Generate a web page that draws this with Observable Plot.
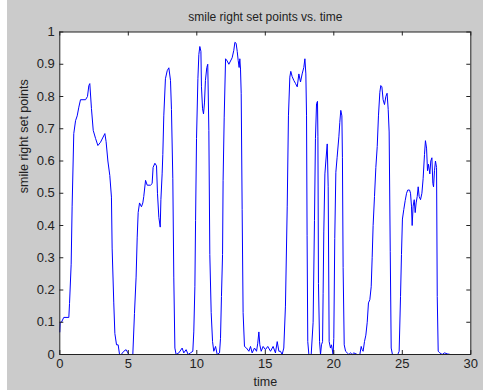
<!DOCTYPE html>
<html><head><meta charset="utf-8">
<script src="https://cdn.jsdelivr.net/npm/d3@7"></script>
<script src="https://cdn.jsdelivr.net/npm/@observablehq/plot@0.6"></script>
<style>
body{margin:0;background:#fff;}
#chart{position:absolute;left:7px;top:0;}
</style></head><body><div id="chart"></div>
<script>
const time = [0,0.03,0.12,0.29,0.66,0.71,0.83,0.90,1.02,1.15,1.27,1.39,1.51,1.88,2.02,2.12,2.19,2.31,2.44,2.61,2.78,2.97,3.29,3.38,3.51,3.65,3.77,3.82,3.94,4.02,4.14,4.26,4.36,4.48,4.67,4.84,5.04,5.33,5.45,5.57,5.65,5.72,5.82,5.96,6.06,6.13,6.26,6.38,6.62,6.74,6.81,6.94,7.06,7.13,7.23,7.33,7.38,7.47,7.52,7.59,7.71,7.84,7.96,8.08,8.15,8.25,8.32,8.40,8.49,8.69,8.93,9.05,9.22,9.37,9.54,9.71,9.78,
9.86,9.91,9.98,10.08,10.15,10.22,10.30,10.34,10.42,10.49,10.56,10.63,10.73,10.80,10.88,10.95,11.05,11.15,11.24,11.37,11.49,11.66,11.73,11.80,11.88,11.92,12.00,12.10,12.22,12.34,12.46,12.58,12.70,12.78,12.87,12.95,13.02,13.09,13.14,13.19,13.24,13.31,13.38,13.48,13.63,13.80,13.92,14.04,14.21,14.36,14.45,14.53,14.60,14.70,14.84,15.01,15.18,15.38,15.57,15.74,15.87,15.99,16.11,16.23,16.35,16.47,16.60,16.69,16.79,16.86,16.96,17.08,17.21,17.33,17.45,17.57,17.69,17.81,17.89,17.96,18.01,18.05,18.10,18.18,18.35,18.49,18.59,18.66,18.74,18.81,
18.84,18.88,18.96,19.03,19.10,19.18,19.22,19.27,19.35,19.42,19.52,19.59,19.66,19.76,19.83,19.95,20.00,20.07,20.15,20.24,20.37,20.44,20.51,20.59,20.63,20.68,20.76,20.86,20.98,21.10,21.22,21.34,21.46,21.71,21.90,22.00,22.07,22.14,22.24,22.34,22.44,22.53,22.63,22.73,22.80,22.87,22.97,23.07,23.17,23.26,23.36,23.43,23.51,23.60,23.70,23.80,23.89,23.97,24.04,24.12,24.19,24.28,24.50,24.67,24.77,24.87,24.94,25.01,25.11,25.21,25.31,25.40,25.53,25.60,25.67,25.72,25.79,25.87,25.94,26.01,26.09,26.16,26.23,26.33,26.43,26.52,26.62,26.69,26.77,26.84,26.91,27.01,27.08,27.16,27.23,27.28,27.35,27.42,27.50,27.55,27.62,27.74,27.91,28.08,28.28,28.52,28.81];
const setPoints = [0.07,0.10,0.10,0.115,0.115,0.158,0.28,0.46,0.685,0.725,0.74,0.767,0.79,0.79,0.80,0.834,0.84,0.763,0.695,0.67,0.648,0.658,0.685,0.66,0.60,0.555,0.488,0.33,0.16,0.065,0.03,0.03,0,0,0.01,0.015,0,0,0.127,0.24,0.364,0.44,0.47,0.458,0.47,0.49,0.54,0.525,0.525,0.53,0.58,0.593,0.585,0.50,0.425,0.395,0.48,0.56,0.62,0.74,0.855,0.88,0.889,0.85,0.76,0.545,0.24,0.02,0,0.005,0.02,0.005,0.015,0,0.005,0.01,0.07,
0.21,0.415,0.67,0.855,0.93,0.955,0.94,0.83,0.762,0.746,0.78,0.85,0.89,0.90,0.695,0.31,0.13,0.04,0.01,0.025,0,0.005,0.05,0.18,0.31,0.54,0.736,0.917,0.91,0.90,0.91,0.92,0.943,0.968,0.965,0.94,0.912,0.89,0.917,0.885,0.81,0.45,0.13,0.025,0.02,0.01,0.025,0.005,0.02,0.01,0.035,0.07,0.03,0.01,0.025,0.015,0.025,0.01,0.025,0.005,0.04,0.01,0.01,0,0.02,0.15,0.46,0.74,0.86,0.878,0.862,0.85,0.84,0.83,0.87,0.845,0.87,0.89,0.917,0.87,0.74,0.37,0.04,0,0,0.10,0.415,0.67,0.778,0.785,
0.675,0.22,0.04,0,0.03,0.04,0.19,0.38,0.56,0.60,0.653,0.52,0.04,0.02,0.03,0,0.05,0.36,0.565,0.61,0.675,0.72,0.757,0.74,0.61,0.27,0.03,0.01,0.005,0,0.005,0,0.005,0,0,0.025,0.015,0.01,0.04,0.06,0.10,0.16,0.17,0.21,0.30,0.40,0.49,0.58,0.645,0.74,0.813,0.834,0.83,0.79,0.775,0.80,0.81,0.76,0.69,0.32,0.02,0,0,0,0.01,0.18,0.31,0.42,0.45,0.477,0.50,0.51,0.51,0.50,0.46,0.40,0.46,0.48,0.44,0.47,0.49,0.52,0.49,0.48,0.50,0.545,0.62,0.663,0.64,0.57,0.59,0.56,0.60,0.61,0.53,0.52,0.57,0.60,0.58,0.18,0.01,0.005,0,0.005,0.002,0,0];
const xTicks = [0,5,10,15,20,25,30];
const yTicks = [0,0.1,0.2,0.3,0.4,0.5,0.6,0.7,0.8,0.9,1];
const yTickLabels = ["0","0.1","0.2","0.3","0.4","0.5","0.6","0.7","0.8","0.9","1"];
const title = "smile right set points vs. time";
const xLabel = "time";
const yLabel = "smile right set points";

const data = time.map((t, i) => ({time: t, value: setPoints[i]}));
const W = 476, H = 390, mL = 52.3, mR = 12.7, mT = 31.5, mB = 36;
const plotH = H - mT - mB, plotW = W - mL - mR, tk = 4;
const ink = "#222";
const chart = Plot.plot({
  width: W, height: H, marginLeft: mL, marginRight: mR, marginTop: mT, marginBottom: mB,
  style: {background: "#cbcbcb", fontFamily: "'Liberation Sans', Arial, sans-serif", fontSize: "13px", color: ink},
  x: {domain: [0, 30]},
  y: {domain: [0, 1]},
  marks: [
    Plot.frame({fill: "white", stroke: null}),
    Plot.line(data, {x: "time", y: "value", stroke: "#0000ff", strokeWidth: 1}),
    Plot.tickX(xTicks, {x: d => d, insetTop: plotH - tk, stroke: ink}),
    Plot.tickX(xTicks, {x: d => d, insetBottom: plotH - tk, stroke: ink}),
    Plot.tickY(yTicks, {y: d => d, insetRight: plotW - tk, stroke: ink}),
    Plot.tickY(yTicks, {y: d => d, insetLeft: plotW - tk, stroke: ink}),
    Plot.frame({stroke: ink}),
    Plot.axisX({ticks: xTicks, tickSize: 0, tickPadding: 4, label: null, fontSize: 13, fill: ink}),
    Plot.axisY({ticks: yTicks, tickSize: 0, tickPadding: 5, label: null, fontSize: 13, fill: ink,
      tickFormat: d => yTickLabels[yTicks.indexOf(d)]}),
    Plot.text([title], {frameAnchor: "top", dy: -11.5, lineAnchor: "bottom", text: d => d, fontSize: 12, fill: ink}),
    Plot.text([xLabel], {frameAnchor: "bottom", dy: 31, lineAnchor: "bottom", text: d => d, fontSize: 12.5, fill: ink}),
    Plot.text([yLabel], {frameAnchor: "left", dx: -32, rotate: -90, lineAnchor: "bottom", text: d => d, fontSize: 12.5, fill: ink})
  ]
});
document.getElementById("chart").append(chart);
</script></body></html>
